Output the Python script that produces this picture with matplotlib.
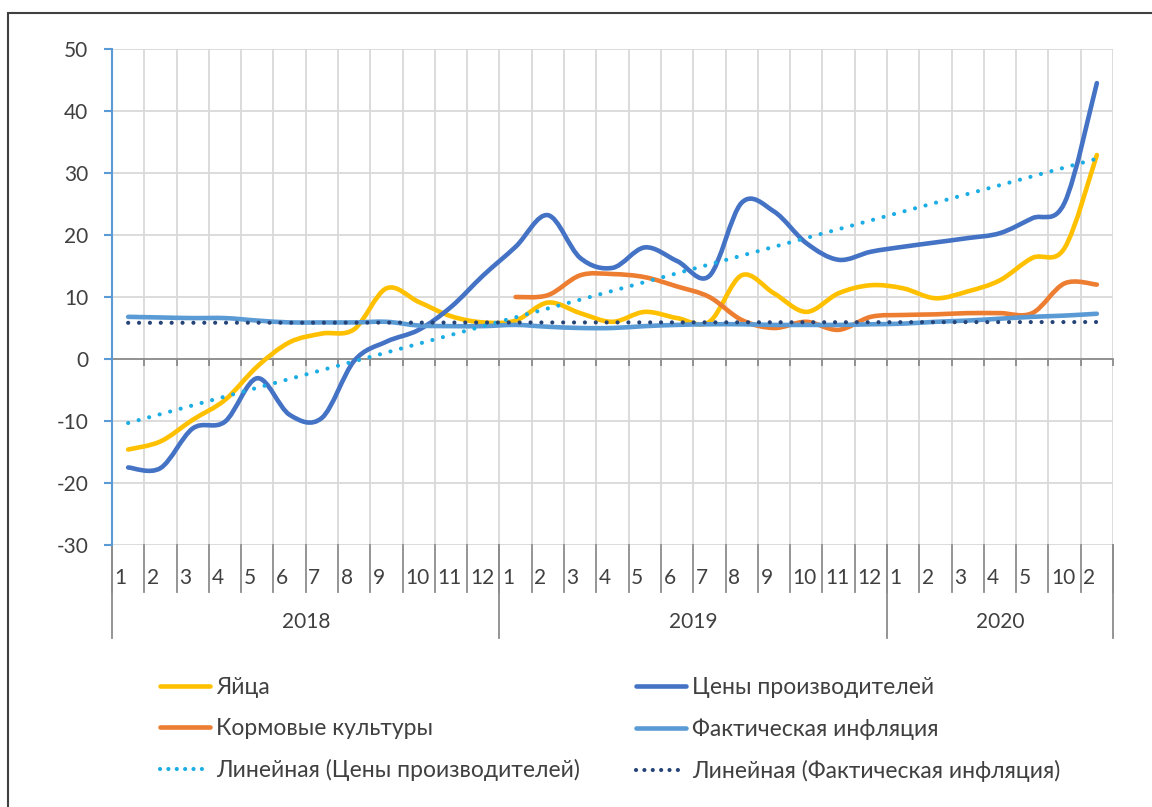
import numpy as np
import matplotlib
matplotlib.use('Agg')
import matplotlib.pyplot as plt
from matplotlib.path import Path
from matplotlib.patches import PathPatch, Rectangle
from matplotlib.lines import Line2D

plt.rcParams['font.family'] = ['Lato', 'DejaVu Sans']
plt.rcParams['axes.unicode_minus'] = False

# data
months = ['1', '2', '3', '4', '5', '6', '7', '8', '9', '10', '11', '12',
          '1', '2', '3', '4', '5', '6', '7', '8', '9', '10', '11', '12',
          '1', '2', '3', '4', '5', '10', '2']
years = ['2018', '2019', '2020']
year_sizes = [12, 12, 7]

eggs = [-14.6, -13.3, -9.8, -6.6, -1.2, 2.7, 4.1, 4.8, 11.4, 9.2, 6.9, 5.9,
        6.2, 9.1, 7.4, 6.0, 7.6, 6.6, 6.0, 13.5, 10.6, 7.6, 10.6, 11.9,
        11.4, 9.8, 10.9, 12.7, 16.3, 17.9, 32.9]
producers = [-17.5, -17.6, -11.2, -10.1, -3.1, -9.0, -9.5, -0.3, 2.8, 4.7, 8.4, 13.5,
             18.1, 23.2, 16.3, 14.7, 18.0, 15.8, 13.4, 25.2, 23.8, 18.7, 16.0, 17.3,
             18.1, 18.8, 19.5, 20.3, 22.7, 25.2, 44.5]
feed = [10.0, 10.3, 13.5, 13.7, 13.2, 11.7, 10.0, 6.3, 5.0, 6.0, 4.7, 6.8,
        7.1, 7.2, 7.4, 7.4, 7.4, 12.2, 12.0]   # from 2019/1
feed_start = 12
inflation = [6.8, 6.7, 6.6, 6.6, 6.2, 5.9, 5.9, 5.9, 6.0, 5.4, 5.3, 5.3,
             5.5, 5.2, 5.0, 5.0, 5.3, 5.5, 5.6, 5.6, 5.5, 5.5, 5.5, 5.6,
             5.7, 6.0, 6.2, 6.5, 6.8, 7.0, 7.3]

names = ['Яйца', 'Цены производителей', 'Кормовые культуры', 'Фактическая инфляция',
         'Линейная (Цены производителей)', 'Линейная (Фактическая инфляция)']
colors = ['#FFC000', '#4472C4', '#ED7D31', '#5B9BD5', '#1CADE4', '#264478']


def smooth(x, y):
    # excel-like smoothed line as cubic bezier segments
    n = len(x)
    verts = [(x[0], y[0])]
    codes = [Path.MOVETO]
    for i in range(n - 1):
        a = max(i - 1, 0)
        b = min(i + 2, n - 1)
        c1 = (x[i] + (x[i + 1] - x[a]) / 6, y[i] + (y[i + 1] - y[a]) / 6)
        c2 = (x[i + 1] - (x[b] - x[i]) / 6, y[i + 1] - (y[b] - y[i]) / 6)
        verts += [c1, c2, (x[i + 1], y[i + 1])]
        codes += [Path.CURVE4] * 3
    return Path(verts, codes)


fig = plt.figure(figsize=(11.52, 8.07), dpi=100)
ax = fig.add_axes([112 / 1152, 1 - 545 / 807, (1113 - 112) / 1152, 496 / 807])

n = len(months)
x = np.arange(n)
lw = 3.3
series = [(x, eggs), (x, producers), (np.arange(feed_start, n), feed), (x, inflation)]
for (sx, sy), c in zip(series, colors[:4]):
    ax.add_patch(PathPatch(smooth(list(sx), list(sy)), fill=False, edgecolor=c,
                           lw=lw, capstyle='round', joinstyle='round', zorder=3))

# linear trendlines
for vals, c in [(producers, colors[4]), (inflation, colors[5])]:
    k, b = np.polyfit(x, vals, 1)
    ax.plot(x, k * x + b, color=c, lw=3.0, linestyle=(0, (0.01, 2.6)),
            dash_capstyle='round', zorder=4)

ax.set_xlim(-0.5, n - 0.5)
ax.set_ylim(-30, 50)
ax.set_yticks(range(-30, 51, 10))
for v in range(-30, 51, 10):
    ax.axhline(v, color='#D9D9D9', lw=1.3, zorder=1)
for v in np.arange(-0.5, n, 1.0):
    ax.axvline(v, color='#D9D9D9', lw=1.3, zorder=1)

for s in ['top', 'right']:
    ax.spines[s].set_visible(False)
ax.spines['left'].set_color('#5B9BD5')
ax.spines['left'].set_linewidth(1.5)
ax.spines['bottom'].set_position(('data', 0))
ax.spines['bottom'].set_color('#8C8C8C')
ax.spines['bottom'].set_linewidth(1.3)
ax.spines['bottom'].set_zorder(2)
ax.set_xticks(np.arange(-0.5, n, 1.0))
ax.tick_params(axis='x', direction='out', length=5, width=1.3, color='#8C8C8C',
               labelbottom=False)
ax.tick_params(axis='y', direction='out', length=6, width=1.5, color='#5B9BD5',
               pad=11, labelsize=15, labelcolor='#404040')

# multi-level category labels under the plot
tr = ax.get_xaxis_transform()
for i, m in enumerate(months):
    ax.text(i - 0.5 + 0.08, -0.066, m, transform=tr, ha='left', va='center',
            fontsize=15, color='#404040')
for i in range(n + 1):
    ax.add_line(Line2D([i - 0.5, i - 0.5], [0, -0.095], transform=tr, color='#8C8C8C',
                       lw=1.3, clip_on=False))
pos = 0
for yr, sz in zip(years, year_sizes):
    ax.text(pos - 0.5 + sz / 2, -0.155, yr, transform=tr, ha='center', va='center',
            fontsize=15, color='#404040')
    ax.add_line(Line2D([pos - 0.5, pos - 0.5], [0, -0.187], transform=tr,
                       color='#8C8C8C', lw=1.3, clip_on=False))
    pos += sz
ax.add_line(Line2D([n - 0.5, n - 0.5], [0, -0.187], transform=tr,
                   color='#8C8C8C', lw=1.3, clip_on=False))

# legend
handles = [Line2D([], [], color=c, lw=lw, solid_capstyle='round') for c in colors[:4]]
handles += [Line2D([], [], color=c, lw=3.0, linestyle=(0, (0.01, 2.0)),
                   dash_capstyle='round') for c in colors[4:]]
order = [0, 2, 4, 1, 3, 5]
leg = fig.legend([handles[i] for i in order], [names[i] for i in order], ncol=2,
                 loc='upper left', bbox_to_anchor=(160 / 1152, 1 - 677 / 807),
                 frameon=False, fontsize=16.5, handlelength=2.18, handletextpad=0.26,
                 columnspacing=2.45, labelspacing=0.88, borderpad=0, borderaxespad=0)
for t in leg.get_texts():
    t.set_color('#404040')

# chart area border
fig.add_artist(Rectangle((8 / 1152, -0.1), 1.2, 1 - 13 / 807 + 0.1, transform=fig.transFigure,
                         fill=False, edgecolor='#404040', lw=1.5))

fig.savefig('out.png', dpi=100)
